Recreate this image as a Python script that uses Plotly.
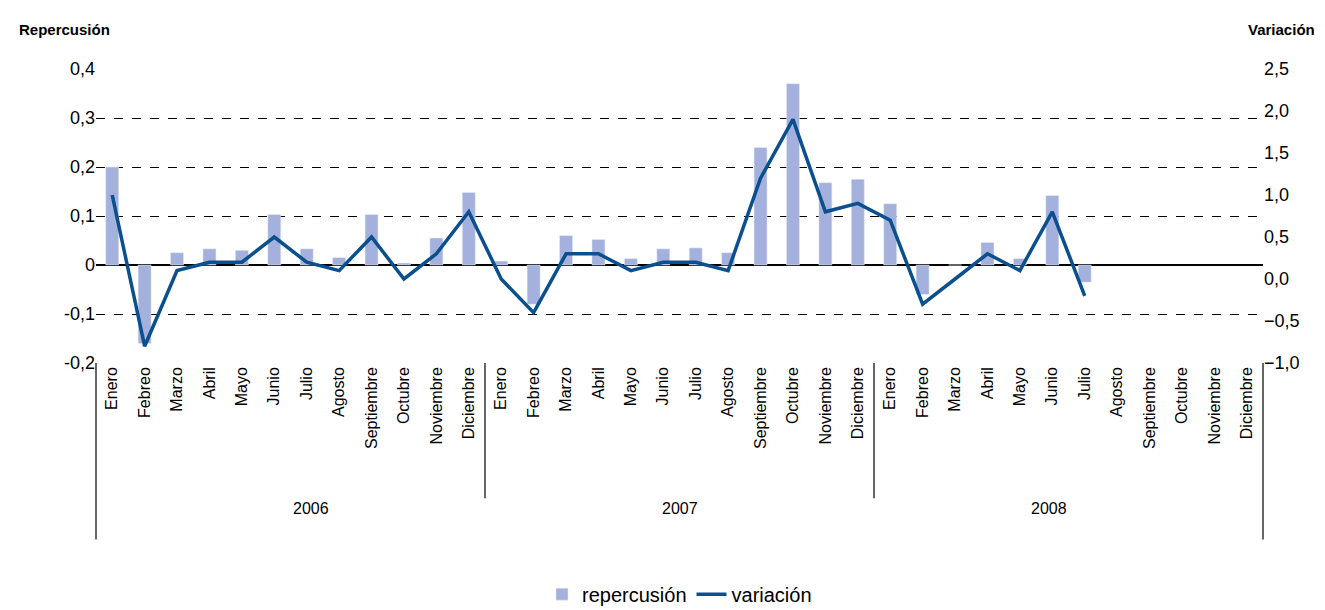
import plotly.graph_objects as go

meses = ["Enero", "Febreo", "Marzo", "Abril", "Mayo", "Junio", "Julio", "Agosto",
         "Septiembre", "Octubre", "Noviembre", "Diciembre"]
anios = ["2006", "2007", "2008"]

repercusion = [0.20, -0.16, 0.025, 0.033, 0.03, 0.103, 0.033, 0.015, 0.103, 0.004, 0.055, 0.148,
               0.008, -0.08, 0.06, 0.052, 0.013, 0.033, 0.035, 0.025, 0.24, 0.37, 0.168, 0.175,
               0.125, -0.06, 0.0, 0.046, 0.013, 0.142, -0.035]
variacion = [1.0, -0.8, 0.1, 0.2, 0.2, 0.5, 0.2, 0.1, 0.5, 0.0, 0.3, 0.8,
             0.0, -0.4, 0.3, 0.3, 0.1, 0.2, 0.2, 0.1, 1.2, 1.9, 0.8, 0.9,
             0.7, -0.3, 0.0, 0.3, 0.1, 0.8, -0.2]
izq_ticks = [-0.2, -0.1, 0, 0.1, 0.2, 0.3, 0.4]
izq_labels = ["-0,2", "-0,1", "0", "0,1", "0,2", "0,3", "0,4"]

n = len(meses) * len(anios)
xs = list(range(len(repercusion)))
font = dict(family="Liberation Sans, Arial", color="black")

fig = go.Figure()
fig.add_bar(x=xs, y=repercusion, name="repercusión", marker_color="#a3b1dc", width=0.4)
fig.add_scatter(x=xs, y=variacion, name="variación", yaxis="y2", mode="lines",
                line=dict(color="#0b4f8f", width=3.5))

shapes = []
for k in range(len(anios) + 1):
    xp = k / len(anios)
    shapes.append(dict(type="line", xref="paper", yref="paper", x0=xp, x1=xp, y0=0,
                       y1=-0.6 if k in (0, 3) else -0.46, line=dict(color="black", width=1.2)))
ann = [dict(text=a, xref="paper", yref="paper", x=(i + 0.5) / len(anios), y=-0.53, showarrow=False,
            font=dict(size=16, **font)) for i, a in enumerate(anios)]
ann += [dict(text="<b>Repercusión</b>", xref="paper", yref="paper", x=-0.068, y=1.17, xanchor="left",
             showarrow=False, font=dict(size=15, **font)),
        dict(text="<b>Variación</b>", xref="paper", yref="paper", x=1.046, y=1.17, xanchor="right",
             showarrow=False, font=dict(size=15, **font))]

fig.update_layout(
    width=1325, height=610, plot_bgcolor="white", paper_bgcolor="white",
    margin=dict(l=88, r=70, t=61, b=255, autoexpand=False), font=dict(size=18, **font),
    xaxis=dict(range=[-0.5, n - 0.5], tickvals=list(range(n)), ticktext=meses * len(anios),
               tickangle=-90, tickfont=dict(size=16), showgrid=False, zeroline=False,
               showline=False, ticks="", automargin=False),
    yaxis=dict(range=[-0.2, 0.4], tickvals=izq_ticks, ticktext=izq_labels, showgrid=True,
               gridcolor="black", griddash="dash", gridwidth=1, zeroline=True, zerolinecolor="black",
               zerolinewidth=1.5, automargin=False),
    yaxis2=dict(range=[-1.0, 2.5], dtick=0.5, tickformat=".1f", overlaying="y", side="right",
                showgrid=False, zeroline=False, automargin=False),
    separators=", ",
    barmode="overlay",
    legend=dict(orientation="h", x=0.5, xanchor="center", y=-0.72, yanchor="top",
                font=dict(size=20)),
    shapes=shapes, annotations=ann,
)
fig.write_html("out.html")
